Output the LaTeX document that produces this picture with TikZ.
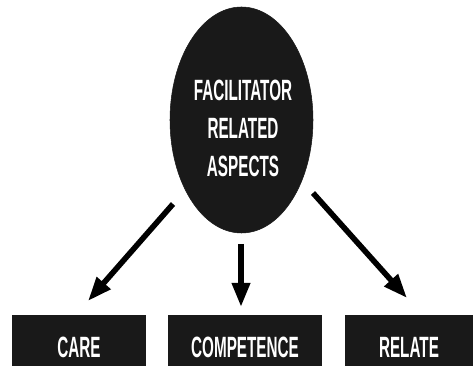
\documentclass[tikz,border=0pt]{standalone}
\usepackage{fontspec}
\newfontfamily\narrowfont[FakeStretch=0.52]{Liberation Sans}
\usetikzlibrary{shapes.geometric,arrows.meta}

\tikzset{
  blob/.style={ellipse, fill=black!90, draw=black!90, inner sep=0pt, minimum width=107.25pt, minimum height=169.5pt},
  boxnode/.style={rectangle, fill=black!90, inner sep=0pt, minimum height=48pt},
  lbl/.style={text=white, font=\narrowfont\bfseries\fontsize{22}{28.5}\selectfont, align=center},
  thickarrow/.style={line width=4.2pt, -{Triangle[length=18pt,width=13pt]}}
}

\begin{document}
\begin{tikzpicture}[x=0.75pt,y=0.75pt,yscale=-1]
\useasboundingbox (0,0) rectangle (475,366);

%Shape: Ellipse
\node [blob] (fac) at (241.5,120) {};
% Text Node
\node [lbl] (factext) at (243,128) {FACILITATOR\\RELATED\\ASPECTS};

%Shape: Rectangles
\node [boxnode, minimum width=100.5pt] (care) at (79,347) {};
\node [boxnode, minimum width=115.5pt] (comp) at (245,347) {};
\node [boxnode, minimum width=96pt] (relate) at (409,347) {};
% Text Node
\node [lbl] at (care) {CARE};
\node [lbl] at (comp) {COMPETENCE};
\node [lbl] at (relate) {RELATE};

%Straight Lines
\coordinate (l0) at (173,204);
\coordinate (l1) at (88,301);
\coordinate (m0) at (241,244);
\coordinate (m1) at (241,307);
\coordinate (r0) at (313,193);
\coordinate (r1) at (407,298);
\draw [thickarrow] (l0) -- (l1);
\draw [thickarrow] (m0) -- (m1);
\draw [thickarrow] (r0) -- (r1);

\end{tikzpicture}
\end{document}
